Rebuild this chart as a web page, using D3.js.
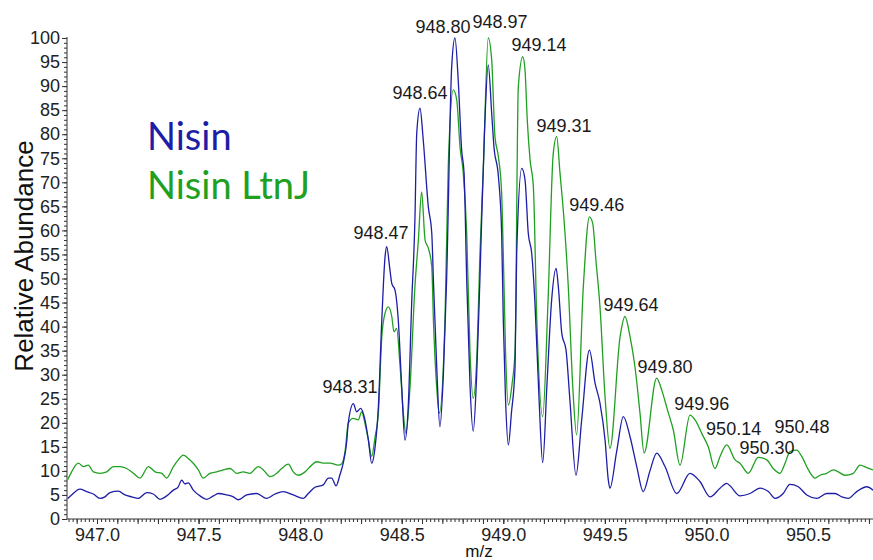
<!DOCTYPE html>
<html><head><meta charset="utf-8">
<script src="https://cdn.jsdelivr.net/npm/d3@7"></script>
<style>
body{margin:0;background:#fff}
text{font-family:"Liberation Sans",Arial,sans-serif}
</style>
</head><body>
<svg id="chart" width="873" height="560"></svg>
<script>
// ---- data ----
const nisinMz = [946.855,946.875,946.916,946.949,946.982,947.015,947.039,947.064,947.105,947.138,947.171,947.203,947.245,947.277,947.310,947.343,947.376,947.400,947.417,947.433,947.449,947.474,947.507,947.540,947.573,947.597,947.638,947.671,947.696,947.737,947.786,947.835,947.876,947.917,947.966,948.016,948.040,948.073,948.114,948.139,948.155,948.177,948.196,948.212,948.229,948.237,948.262,948.278,948.298,948.319,948.336,948.352,948.369,948.385,948.402,948.418,948.426,948.442,948.451,948.467,948.483,948.500,948.516,948.532,948.549,948.565,948.574,948.590,948.606,948.631,948.648,948.656,948.672,948.688,948.705,948.721,948.746,948.762,948.779,948.795,948.807,948.820,948.836,948.852,948.869,948.885,948.907,948.926,948.943,948.954,948.976,948.992,949.000,949.011,949.025,949.040,949.058,949.066,949.091,949.107,949.123,949.140,949.156,949.176,949.194,949.215,949.238,949.260,949.271,949.288,949.309,949.328,949.358,949.386,949.424,949.452,949.476,949.501,949.517,949.525,949.558,949.591,949.624,949.657,949.689,949.722,949.755,949.796,949.854,949.919,949.968,950.018,950.067,950.100,950.116,950.165,950.215,950.264,950.305,950.338,950.378,950.411,950.452,950.494,950.543,950.592,950.633,950.666,950.698,950.740,950.789,950.820];
const nisinAb = [4.2,5.0,6.2,5.7,5.2,4.3,4.6,5.5,5.8,5.0,4.6,4.3,5.5,5.2,4.1,4.8,6.0,6.7,8.1,7.3,7.5,6.0,4.8,4.1,4.8,5.3,5.0,4.6,4.0,5.0,5.3,4.3,5.2,5.7,5.0,4.3,5.3,6.6,7.1,8.5,8.5,6.9,9.2,11.6,16.0,20.0,24.0,22.3,23.0,20.6,16.4,11.6,15.0,23.3,41.4,54.5,56.6,51.8,49.0,47.6,41.4,27.5,16.4,23.3,44.8,62.2,80.2,85.4,78.8,64.9,59.4,49.7,32.0,19.2,30.0,49.7,94.0,100.0,90.6,76.7,71.9,49.7,28.0,18.2,30.0,50.0,80.0,94.4,84.3,77.4,71.2,59.4,41.4,25.0,15.4,22.0,31.7,55.2,72.9,70.5,59.4,55.2,44.8,25.0,11.7,28.0,45.5,52.1,48.3,38.6,35.1,24.7,9.1,20.6,35.1,28.2,24.1,16.4,8.1,6.4,14.0,21.3,17.1,10.9,5.7,10.0,13.7,10.9,5.3,9.5,7.8,4.6,6.4,7.4,6.9,4.8,5.3,6.4,5.7,4.3,5.3,7.2,6.7,5.0,4.3,5.3,5.3,4.6,4.3,5.7,6.7,6.0];

const ltnjMz = [946.855,946.875,946.908,946.933,946.957,946.982,947.015,947.048,947.080,947.113,947.146,947.179,947.212,947.253,947.286,947.319,947.343,947.376,947.400,947.425,947.449,947.474,947.499,947.523,947.556,947.589,947.622,947.655,947.688,947.720,947.753,947.794,947.819,947.852,947.885,947.909,947.942,947.966,947.991,948.024,948.057,948.082,948.114,948.147,948.188,948.205,948.221,948.237,948.262,948.286,948.303,948.319,948.336,948.352,948.369,948.385,948.402,948.418,948.434,948.451,948.462,948.475,948.492,948.508,948.521,948.541,948.565,948.582,948.598,948.615,948.631,948.648,948.656,948.672,948.685,948.713,948.729,948.754,948.771,948.787,948.803,948.820,948.836,948.852,948.871,948.885,948.902,948.926,948.943,948.959,948.976,948.992,949.000,949.011,949.025,949.043,949.058,949.074,949.096,949.107,949.118,949.132,949.148,949.165,949.194,949.220,949.246,949.263,949.279,949.299,949.320,949.342,949.361,949.394,949.424,949.440,949.456,949.476,949.501,949.525,949.575,949.599,949.624,949.648,949.673,949.693,949.755,949.780,949.808,949.837,949.870,949.919,949.944,949.977,950.009,950.042,950.067,950.100,950.141,950.165,950.206,950.255,950.297,950.329,950.362,950.387,950.411,950.444,950.469,950.502,950.535,950.559,950.592,950.625,950.649,950.682,950.723,950.756,950.789,950.820];
const ltnjAb = [8.1,9.8,11.6,10.9,11.2,9.8,9.5,9.8,10.9,10.9,10.5,9.5,8.5,10.9,9.8,9.5,8.5,10.9,12.3,13.3,12.6,11.6,10.2,8.5,9.5,9.8,10.2,10.5,9.5,9.8,9.5,10.9,10.2,8.8,9.5,10.5,11.4,9.8,9.1,9.8,11.2,11.9,11.6,11.6,11.2,11.5,14.0,19.9,20.9,20.6,22.3,19.9,16.4,13.0,17.1,22.0,37.9,42.8,44.1,42.1,38.9,39.6,31.7,22.0,17.8,27.5,48.3,58.0,68.0,58.0,56.3,52.5,41.4,27.5,22.0,41.4,73.2,89.2,87.1,77.4,71.9,59.4,35.0,25.1,35.0,55.0,73.2,100.0,95.4,79.5,75.3,67.7,55.2,35.0,23.7,28.0,35.1,89.9,96.1,93.3,83.0,74.6,69.1,41.4,21.3,45.0,76.0,79.5,72.0,62.2,48.3,27.5,17.5,48.3,62.8,61.5,53.8,44.1,25.4,14.7,37.9,42.1,37.9,31.7,22.0,13.7,29.3,26.8,22.7,18.5,11.2,21.6,20.6,17.8,15.0,10.5,13.0,15.4,12.3,11.6,9.5,12.8,12.3,10.5,9.5,11.6,14.0,14.3,13.0,10.2,8.5,9.1,9.5,10.2,9.8,9.1,9.5,11.2,10.7,10.2];

const peakText = ["948.31","948.47","948.64","948.80","948.97","949.14","949.31","949.46","949.64","949.80","949.96","950.14","950.30","950.48"];
const peakTextMz = [948.245,948.398,948.590,948.703,948.984,949.176,949.299,949.460,949.629,949.796,949.977,950.134,950.298,950.471];
const peakTextAb = [26.2,58.2,87.3,101.0,102.1,97.2,80.5,64.1,43.3,30.3,22.7,17.5,13.6,17.8];

const xTickValues = [947.0,947.5,948.0,948.5,949.0,949.5,950.0,950.5];
const yTickValues = [0,5,10,15,20,25,30,35,40,45,50,55,60,65,70,75,80,85,90,95,100];
const seriesNames = ["Nisin","Nisin LtnJ"];
const seriesColors = ["#1d1da6","#20a020"];

// ---- layout ----
const L = 67, R = 873, T = 38, B = 519;
const svg = d3.select("#chart");
const x = d3.scaleLinear().domain([947.0, 950.5]).range([97, 808]);
const y = d3.scaleLinear().domain([0, 100]).range([B, T]);

svg.append("defs").append("clipPath").attr("id","clip")
  .append("rect").attr("x", L+0.5).attr("y", 0).attr("width", R-L).attr("height", B);

// axes
const yMinor = d3.range(0, 101, 1);
const yAxisMinor = d3.axisLeft(y).tickValues(yMinor).tickSize(3).tickFormat("");
svg.append("g").attr("transform",`translate(${L},0)`).call(yAxisMinor)
  .call(g=>g.select(".domain").remove());
const yAxis = d3.axisLeft(y).tickValues(yTickValues).tickSize(5).tickPadding(2).tickFormat(d3.format("d"));
const gy = svg.append("g").attr("transform",`translate(${L},0)`).call(yAxis);
gy.selectAll("text").attr("font-size", 18).attr("fill","#222").style("font-family","Liberation Sans, Arial, sans-serif");
gy.select(".domain").attr("d", `M0,${T-1}V${B}`);

const xStart = x.invert(L), xEnd = x.invert(R);
const xMinor = d3.range(Math.ceil(xStart*50), Math.floor(xEnd*50)+1).map(v=>v/50);
const xAxisMinor = d3.axisBottom(x).tickValues(xMinor).tickSize(3).tickFormat("");
svg.append("g").attr("transform",`translate(0,${B})`).call(xAxisMinor)
  .call(g=>g.select(".domain").remove());
const xMid = d3.range(Math.ceil(xStart*10), Math.floor(xEnd*10)+1).map(v=>v/10);
svg.append("g").attr("transform",`translate(0,${B})`)
  .call(d3.axisBottom(x).tickValues(xMid).tickSize(5).tickFormat(""))
  .call(g=>g.select(".domain").remove());
const xAxis = d3.axisBottom(x).tickValues(xTickValues).tickSize(5).tickPadding(4).tickFormat(d3.format(".1f"));
const gx = svg.append("g").attr("transform",`translate(0,${B})`).call(xAxis);
gx.selectAll("text").attr("font-size", 18).attr("fill","#222");
gx.select(".domain").attr("d", `M${L},0H${R}`);

svg.selectAll(".tick line").attr("stroke","#333");
svg.selectAll(".domain").attr("stroke","#333");

// lines
const line = d3.line().x(d=>x(d[0])).y(d=>y(d[1])).curve(d3.curveMonotoneX);
const series = [
  {mz: ltnjMz, ab: ltnjAb, color: seriesColors[1]},
  {mz: nisinMz, ab: nisinAb, color: seriesColors[0]}
];
const plot = svg.append("g").attr("clip-path","url(#clip)");
series.forEach(s=>{
  plot.append("path").datum(s.mz.map((m,i)=>[m, s.ab[i]]))
    .attr("d", line).attr("fill","none").attr("stroke", s.color)
    .attr("stroke-width", 1.3).attr("stroke-linejoin","round");
});

// peak annotations
svg.append("g").selectAll("text").data(peakText).join("text")
  .attr("x",(d,i)=>x(peakTextMz[i])).attr("y",(d,i)=>y(peakTextAb[i]))
  .attr("text-anchor","middle").attr("font-size",18).attr("fill","#1a1a1a")
  .text(d=>d);

// axis titles
svg.append("text").attr("transform",`translate(33,256) rotate(-90)`)
  .attr("text-anchor","middle").attr("font-size",26).attr("fill","#111").text("Relative Abundance");
svg.append("text").attr("x",479).attr("y",557).attr("text-anchor","middle")
  .attr("font-size",17).attr("fill","#111").text("m/z");

// legend
svg.append("g").selectAll("text").data(seriesNames).join("text")
  .attr("x",147).attr("y",(d,i)=>150+i*49)
  .attr("font-size",38).attr("fill",(d,i)=>seriesColors[i])
  .style("font-family","Lato, 'Open Sans', sans-serif")
  .text(d=>d);
</script>
</body></html>
